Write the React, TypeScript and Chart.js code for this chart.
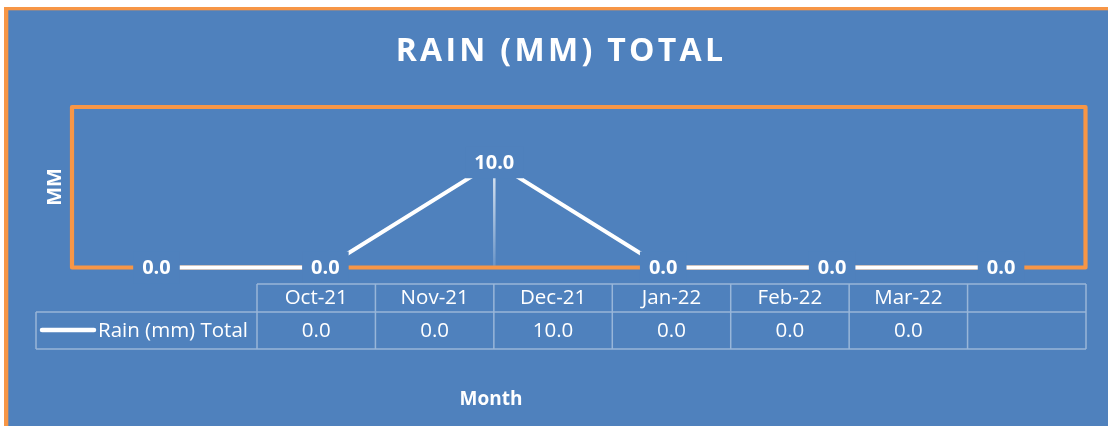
import React, { useEffect, useRef } from "react";
import { Chart, registerables } from "chart.js";

Chart.register(...registerables);

const categories = ["Oct-21", "Nov-21", "Dec-21", "Jan-22", "Feb-22", "Mar-22"];
const rainValues = [0, 0, 10, 0, 0, 0];
const seriesName = "Rain (mm) Total";
const titleText = "RAIN (MM) TOTAL";
const yAxisTitle = "MM";
const xAxisTitle = "Month";
const yMin = 0;
const yMax = 15.25;

const BLUE = "#4F81BD";
const ORANGE = "#F79646";
const FONT = "'Open Sans', 'Noto Sans', sans-serif";

const W = 1108;
const H = 426;

const fmt = (v: number) => v.toFixed(1);

const decorPlugin = {
  id: "decor",
  beforeDraw(chart: any) {
    const ctx = chart.ctx;
    ctx.save();
    ctx.fillStyle = "#ffffff";
    ctx.fillRect(0, 0, W, H);
    ctx.fillStyle = BLUE;
    ctx.fillRect(8, 10, W - 8, H - 10);
    ctx.fillStyle = ORANGE;
    ctx.fillRect(4, 7, W - 4, 3.3);
    ctx.fillRect(4, 7, 4.3, H - 7);
    ctx.restore();
  },
  beforeDatasetsDraw(chart: any) {
    const { ctx, chartArea } = chart;
    ctx.save();
    ctx.strokeStyle = ORANGE;
    ctx.lineWidth = 4.2;
    ctx.lineJoin = "round";
    ctx.strokeRect(
      chartArea.left,
      chartArea.top,
      chartArea.right - chartArea.left,
      chartArea.bottom - chartArea.top
    );
    ctx.restore();
  },
  afterDatasetsDraw(chart: any) {
    const { ctx, chartArea } = chart;
    const meta = chart.getDatasetMeta(0);
    ctx.save();

    // drop lines for non-zero points
    meta.data.forEach((pt: any, i: number) => {
      if (rainValues[i] > 0) {
        const g = ctx.createLinearGradient(0, pt.y, 0, chartArea.bottom);
        g.addColorStop(0, "rgba(255,255,255,0.85)");
        g.addColorStop(1, "rgba(255,255,255,0.15)");
        ctx.strokeStyle = g;
        ctx.lineWidth = 2.5;
        ctx.beginPath();
        ctx.moveTo(pt.x, pt.y);
        ctx.lineTo(pt.x, chartArea.bottom - 2);
        ctx.stroke();
      }
    });

    // data labels with background boxes
    ctx.font = `bold 20px ${FONT}`;
    ctx.textAlign = "center";
    ctx.textBaseline = "middle";
    meta.data.forEach((pt: any, i: number) => {
      const t = fmt(rainValues[i]);
      const tw = ctx.measureText(t).width;
      const bw = tw + 18;
      const bh = 32;
      ctx.fillStyle = BLUE;
      ctx.fillRect(pt.x - bw / 2, pt.y - bh / 2, bw, bh);
      ctx.fillStyle = "#ffffff";
      ctx.fillText(t, pt.x, pt.y + 1);
    });

    // title
    ctx.font = `bold 32px ${FONT}`;
    (ctx as any).letterSpacing = "3.3px";
    ctx.fillStyle = "#ffffff";
    ctx.textAlign = "center";
    ctx.textBaseline = "middle";
    ctx.fillText(titleText, 561, 52);
    (ctx as any).letterSpacing = "0px";

    // y axis title
    ctx.save();
    ctx.translate(55, 187);
    ctx.rotate(-Math.PI / 2);
    ctx.font = `bold 20px ${FONT}`;
    ctx.fillText(yAxisTitle, 0, 0);
    ctx.restore();

    // x axis title
    ctx.font = `bold 19px ${FONT}`;
    ctx.fillStyle = "#ffffff";
    ctx.textAlign = "center";
    ctx.textBaseline = "middle";
    ctx.fillText(xAxisTitle, 491, 400);

    // data table
    const tLeft = 257;
    const tRight = 1086;
    const nCols = categories.length + 1;
    const colW = (tRight - tLeft) / nCols;
    const rTop = 284;
    const rMid = 312;
    const rBot = 349;
    const keyLeft = 36;

    ctx.strokeStyle = "rgba(255,255,255,0.42)";
    ctx.lineWidth = 1.5;
    ctx.beginPath();
    ctx.moveTo(tLeft, rTop);
    ctx.lineTo(tRight, rTop);
    ctx.moveTo(keyLeft, rMid);
    ctx.lineTo(tRight, rMid);
    ctx.moveTo(keyLeft, rBot);
    ctx.lineTo(tRight, rBot);
    ctx.moveTo(keyLeft, rMid);
    ctx.lineTo(keyLeft, rBot);
    for (let c = 0; c <= nCols; c++) {
      const x = tLeft + c * colW;
      ctx.moveTo(x, rTop);
      ctx.lineTo(x, rBot);
    }
    ctx.stroke();

    ctx.font = `20.5px ${FONT}`;
    ctx.fillStyle = "#ffffff";
    ctx.textAlign = "center";
    ctx.textBaseline = "middle";
    categories.forEach((c, i) => {
      const cx = tLeft + (i + 0.5) * colW;
      ctx.fillText(c, cx, 298);
      ctx.fillText(fmt(rainValues[i]), cx, 331);
    });

    // legend key in table
    ctx.strokeStyle = "#ffffff";
    ctx.lineWidth = 4.5;
    ctx.lineCap = "round";
    ctx.beginPath();
    ctx.moveTo(42, 330);
    ctx.lineTo(94, 330);
    ctx.stroke();
    ctx.textAlign = "left";
    ctx.fillText(seriesName, 98, 331);

    ctx.restore();
  },
};

export default function App() {
  const ref = useRef<HTMLCanvasElement | null>(null);

  useEffect(() => {
    if (!ref.current) return;
    const chart = new Chart(ref.current, {
      type: "line",
      data: {
        labels: categories,
        datasets: [
          {
            label: seriesName,
            data: rainValues,
            borderColor: "#ffffff",
            borderWidth: 4,
            pointRadius: 0,
            tension: 0,
            fill: false,
            clip: false as any,
          },
        ],
      },
      options: {
        animation: false,
        responsive: false,
        devicePixelRatio: 1,
        layout: {
          padding: { left: 72, top: 107, right: 22.5, bottom: 158.5 },
        },
        scales: {
          x: { type: "category", display: false, offset: true },
          y: { display: false, min: yMin, max: yMax },
        },
        plugins: {
          legend: { display: false },
          title: { display: false },
          tooltip: { enabled: false },
        },
      },
      plugins: [decorPlugin],
    });
    return () => chart.destroy();
  }, []);

  return (
    <div style={{ position: "fixed", left: 0, top: 0, width: W, height: H }}>
      <canvas ref={ref} width={W} height={H} style={{ width: W, height: H, display: "block" }} />
    </div>
  );
}
